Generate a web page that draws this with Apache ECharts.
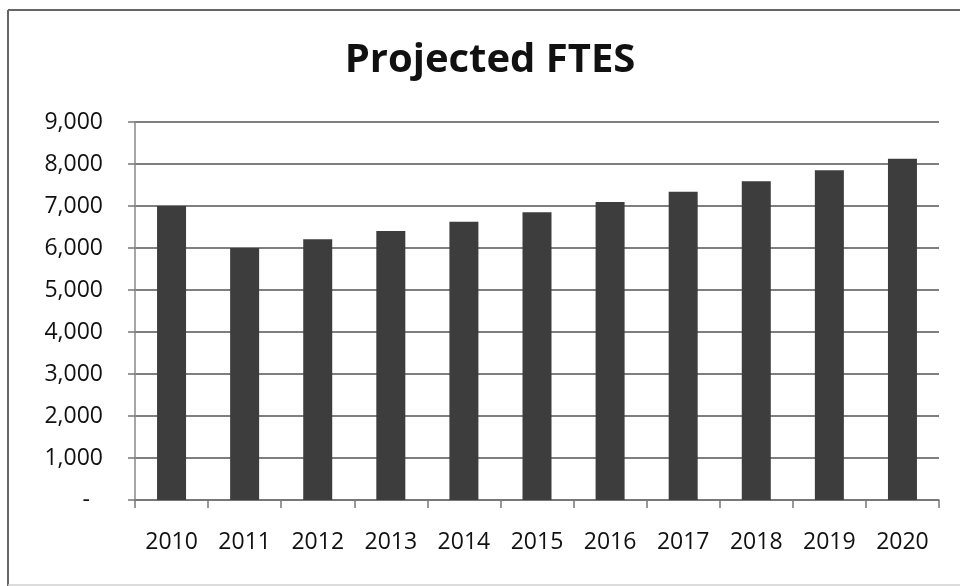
<!DOCTYPE html>
<html>
<head>
<meta charset="utf-8">
<script src="https://cdn.jsdelivr.net/npm/echarts@6/dist/echarts.min.js"></script>
<style>
  html, body { margin: 0; padding: 0; background: #ffffff; }
  #chart { width: 960px; height: 586px; }
</style>
</head>
<body>
<div id="chart"></div>
<script>
// Projected full-time equivalent students by year
const years = ['2010', '2011', '2012', '2013', '2014', '2015', '2016', '2017', '2018', '2019', '2020'];
const ftes = [7000, 6000, 6207, 6405, 6627, 6850, 7095, 7340, 7590, 7850, 8126];
const chartTitle = 'Projected FTES';

const FONT = '"Open Sans", "DejaVu Sans", sans-serif';

const chart = echarts.init(document.getElementById('chart'), null, { renderer: 'canvas' });

chart.setOption({
  backgroundColor: '#ffffff',
  animation: false,
  title: {
    text: chartTitle,
    left: 485,
    textAlign: 'center',
    top: 36,
    textStyle: { fontFamily: FONT, fontWeight: 'bold', fontSize: 40, color: '#111111' }
  },
  graphic: [
    { type: 'line', shape: { x1: 8, y1: 10, x2: 960, y2: 10 }, style: { stroke: '#666666', lineWidth: 2 } },
    { type: 'line', shape: { x1: 8, y1: 10, x2: 8, y2: 586 }, style: { stroke: '#666666', lineWidth: 2 } },
    { type: 'line', shape: { x1: 8, y1: 585, x2: 960, y2: 585 }, style: { stroke: '#d0d0d0', lineWidth: 1.5 } }
  ],
  grid: { left: 135, right: 21, top: 122, bottom: 86, containLabel: false },
  xAxis: {
    type: 'category',
    data: years,
    boundaryGap: true,
    axisLine: { show: true, lineStyle: { color: '#777777', width: 1.5 } },
    axisTick: { show: true, alignWithLabel: false, length: 8, lineStyle: { color: '#777777', width: 1.5 } },
    axisLabel: { margin: 31, fontFamily: FONT, fontSize: 23, color: '#111111' },
    splitLine: { show: false }
  },
  yAxis: {
    type: 'value',
    min: 0,
    max: 9000,
    interval: 1000,
    axisLine: { show: true, lineStyle: { color: '#888888', width: 1.5 } },
    axisTick: { show: true, length: 7, lineStyle: { color: '#777777', width: 1.5 } },
    axisLabel: {
      margin: 32,
      fontFamily: FONT,
      fontSize: 23,
      color: '#111111',
      formatter: function (v) {
        if (v === 0) return '{dash|-}';
        return v.toLocaleString('en-US');
      },
      rich: {
        dash: { fontFamily: FONT, fontSize: 23, color: '#111111', padding: [0, 13, 0, 0] }
      }
    },
    splitLine: { show: true, lineStyle: { color: '#555555', width: 1.5 } }
  },
  series: [{
    type: 'bar',
    data: ftes,
    barWidth: 29,
    itemStyle: { color: '#3d3d3d' }
  }]
});
</script>
</body>
</html>
